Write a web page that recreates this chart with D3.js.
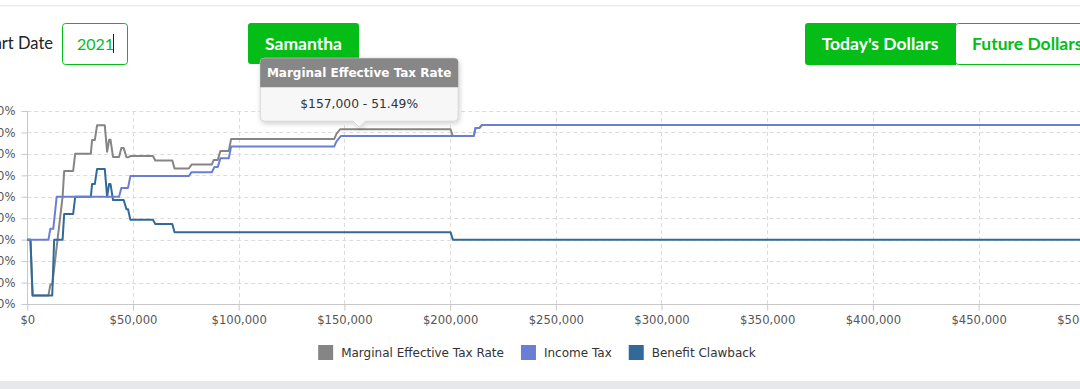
<!DOCTYPE html>
<html>
<head>
<meta charset="utf-8">
<script src="https://cdn.jsdelivr.net/npm/d3@7"></script>
<style>
  html, body { margin: 0; padding: 0; background: #fff; overflow: hidden; }
  svg { display: block; }
</style>
</head>
<body>
<svg id="chart" width="1080" height="389"></svg>
<script>
// values: [employment income, marginal rate %]
const mtrPoints = [
  [0, 0], [1500, 0], [2500, -26], [10000, -26], [10900, -20.95], [11800, -20.95],
  [16700, 20.05], [17450, 32.05], [21700, 32.05], [22650, 40.1], [30050, 40.1],
  [30650, 46.5], [31950, 46.5], [33000, 53.3], [36650, 53.3], [37750, 41],
  [38700, 46.6], [39350, 46.6], [40550, 38.6], [43400, 38.6], [44500, 42.7],
  [45600, 42.7], [46900, 38.4], [47650, 38.4], [48750, 39.0], [59450, 39.0],
  [60550, 36.9], [68600, 36.9], [69650, 33.2], [76400, 33.2], [77700, 35.0],
  [87250, 35.0], [88200, 37.2], [90100, 37.2], [91350, 41.4], [95300, 41.4],
  [96400, 46.9], [145150, 46.9], [146250, 49.3], [148000, 51.49], [200200, 51.49],
  [201300, 48.3], [211200, 48.3], [212000, 52.1], [213900, 52.1], [215100, 53.53],
  [500000, 53.53]
];
const incomeTaxPoints = [
  [0, 0], [10000, 0], [10900, 5.05], [12300, 5.05], [13900, 20.05], [43400, 20.05],
  [44500, 24.15], [47650, 24.15], [48750, 29.65], [76400, 29.65], [77700, 31.48],
  [87250, 31.48], [88550, 33.89], [90100, 33.89], [91350, 37.91], [95300, 37.91],
  [96400, 43.41], [145150, 43.41], [146250, 45.8], [148300, 48.3], [211200, 48.3],
  [212000, 52.1], [213900, 52.1], [215100, 53.53], [500000, 53.53]
];
const clawbackPoints = [
  [0, 0], [1500, 0], [2500, -26], [11800, -26], [12700, 0], [16700, 0],
  [17450, 12], [21700, 12], [22650, 20], [30050, 20], [30650, 26], [31950, 26],
  [33000, 33], [36650, 33], [37750, 20], [38700, 26], [39350, 26], [40550, 18.5],
  [45600, 18.5], [46900, 14.2], [47650, 14.2], [48750, 9.3], [59450, 9.3],
  [60550, 7.3], [68600, 7.3], [69650, 3.5], [200200, 3.5], [201300, 0], [500000, 0]
];
const seriesNames = ["Marginal Effective Tax Rate", "Income Tax", "Benefit Clawback"];
const seriesColors = ["#858585", "#6a7fd4", "#316a98"];
const xTicks = [0, 50000, 100000, 150000, 200000, 250000, 300000, 350000, 400000, 450000, 500000];
const yTicks = [-30, -20, -10, 0, 10, 20, 30, 40, 50, 60];
const tip = { income: 157000, rate: 51.49 };

const green = "#04bd17";
const svg = d3.select("#chart");

const x = d3.scaleLinear().domain([0, 500000]).range([27.3, 1084.3]);
const y = d3.scaleLinear().domain([-30, 60]).range([304, 111]);

// page frame
svg.append("rect").attr("x", 0).attr("y", 0).attr("width", 1080).attr("height", 389).attr("fill", "#fff");
svg.append("rect").attr("x", 0).attr("y", 5).attr("width", 1080).attr("height", 1.5).attr("fill", "#e9edf3");
svg.append("rect").attr("x", 0).attr("y", 381).attr("width", 1080).attr("height", 8).attr("fill", "#e7e8ec");

// controls
const ctl = svg.append("g").style("font-family", "Lato, 'Open Sans', sans-serif");
ctl.append("text").attr("x", 53).attr("y", 49).attr("text-anchor", "end")
  .style("font-size", "16.5px").attr("fill", "#222").text("Start Date");
ctl.append("rect").attr("x", 62.5).attr("y", 23.5).attr("width", 65).attr("height", 41).attr("rx", 3)
  .attr("fill", "#fff").attr("stroke", green);
ctl.append("text").attr("x", 77).attr("y", 50).style("font-size", "16px").attr("fill", green).text("2021");
ctl.append("line").attr("x1", 113.5).attr("x2", 113.5).attr("y1", 34).attr("y2", 53).attr("stroke", "#222");

ctl.append("rect").attr("x", 248).attr("y", 23).attr("width", 111).attr("height", 41).attr("rx", 3).attr("fill", green);
ctl.append("text").attr("x", 303.5).attr("y", 49.5).attr("text-anchor", "middle")
  .style("font-size", "17.5px").style("font-weight", "bold").attr("fill", "#fff").text("Samantha");

ctl.append("rect").attr("x", 955.5).attr("y", 23.5).attr("width", 140).attr("height", 41).attr("rx", 3)
  .attr("fill", "#fff").attr("stroke", green);
ctl.append("rect").attr("x", 805).attr("y", 23).attr("width", 151).attr("height", 42).attr("rx", 3).attr("fill", green);
ctl.append("rect").attr("x", 950).attr("y", 23).attr("width", 6).attr("height", 42).attr("fill", green);
ctl.append("text").attr("x", 880).attr("y", 49.5).attr("text-anchor", "middle")
  .style("font-size", "17.5px").style("font-weight", "bold").attr("fill", "#fff").text("Today's Dollars");
ctl.append("text").attr("x", 972).attr("y", 49.5)
  .style("font-size", "17.5px").style("font-weight", "bold").attr("fill", green).text("Future Dollars");

// grid
const grid = svg.append("g").attr("stroke", "#dcdcdc").attr("stroke-dasharray", "4,3");
grid.selectAll(".hg").data(yTicks.filter(d => d !== -30)).join("line")
  .attr("x1", x(0)).attr("x2", 1080).attr("y1", d => Math.round(y(d)) + 0.5).attr("y2", d => Math.round(y(d)) + 0.5);
grid.selectAll(".vg").data(xTicks.filter(d => d !== 0)).join("line")
  .attr("y1", y(60)).attr("y2", y(-30)).attr("x1", d => Math.round(x(d)) + 0.5).attr("x2", d => Math.round(x(d)) + 0.5);

// axes
const xAxis = svg.append("g").attr("transform", `translate(0,${Math.round(y(-30)) + 0.5})`)
  .call(d3.axisBottom(x).tickValues(xTicks).tickSize(6).tickPadding(5)
    .tickFormat(d => "$" + d3.format(",")(d)));
const yAxis = svg.append("g").attr("transform", `translate(${Math.round(x(0)) + 0.5},0)`)
  .call(d3.axisLeft(y).tickValues(yTicks).tickSize(6).tickPadding(6).tickFormat(d => d + "%"));
[xAxis, yAxis].forEach(a => {
  a.select(".domain").attr("stroke", "#c8c8c8");
  a.selectAll(".tick line").attr("stroke", "#c8c8c8");
  a.selectAll("text").attr("fill", "#555").style("font-family", "'DejaVu Sans', Verdana, sans-serif")
    .style("font-size", "11.6px");
});
yAxis.select(".domain").attr("d", `M0,${y(60)}V${y(-30)}`);
xAxis.select(".domain").attr("d", `M${x(0)},0H1080`);

// lines (income tax drawn on top)
const line = d3.line().x(d => x(d[0])).y(d => y(d[1]));
const drawOrder = [[mtrPoints, 0], [clawbackPoints, 2], [incomeTaxPoints, 1]];
svg.append("g").selectAll("path").data(drawOrder).join("path")
  .attr("d", d => line(d[0])).attr("fill", "none")
  .attr("stroke", d => seriesColors[d[1]]).attr("stroke-width", 2).attr("stroke-linejoin", "round");

// legend
const legend = svg.append("g").style("font-family", "'DejaVu Sans', Verdana, sans-serif").style("font-size", "12px");
const items = legend.selectAll("g").data(seriesNames).join("g");
items.append("rect").attr("width", 15).attr("height", 15).attr("y", 345).attr("fill", (d, i) => seriesColors[i]);
items.append("text").attr("x", 23).attr("y", 357).attr("fill", "#333").text(d => d);
let widths = [];
items.each(function () { widths.push(23 + d3.select(this).select("text").node().getComputedTextLength()); });
const gap = 17;
const total = d3.sum(widths) + gap * (widths.length - 1);
let cx = 537 - total / 2;
items.attr("transform", (d, i) => { const t = `translate(${cx},0)`; cx += widths[i] + gap; return t; });

// tooltip
const tx = x(tip.income), ty = y(tip.rate);
const tw = 198, th = 63, tTop = ty - 71;
const tg = svg.append("g").style("font-family", "'DejaVu Sans', Verdana, sans-serif");
const defs = svg.append("defs");
const f = defs.append("filter").attr("id", "sh").attr("x", "-10%").attr("y", "-10%").attr("width", "130%").attr("height", "140%");
f.append("feDropShadow").attr("dx", 1).attr("dy", 2).attr("stdDeviation", 2.5).attr("flood-color", "#000").attr("flood-opacity", 0.18);
tg.append("path")
  .attr("d", `M${tx - tw / 2 + 4},${tTop}H${tx + tw / 2 - 4}Q${tx + tw / 2},${tTop} ${tx + tw / 2},${tTop + 4}V${tTop + th - 4}Q${tx + tw / 2},${tTop + th} ${tx + tw / 2 - 4},${tTop + th}H${tx + 6}L${tx},${tTop + th + 6}L${tx - 6},${tTop + th}H${tx - tw / 2 + 4}Q${tx - tw / 2},${tTop + th} ${tx - tw / 2},${tTop + th - 4}V${tTop + 4}Q${tx - tw / 2},${tTop} ${tx - tw / 2 + 4},${tTop}Z`)
  .attr("fill", "#f7f7f7").attr("stroke", "#d6d6d6").attr("filter", "url(#sh)");
tg.append("path")
  .attr("d", `M${tx - tw / 2},${tTop + 29}V${tTop + 4}Q${tx - tw / 2},${tTop} ${tx - tw / 2 + 4},${tTop}H${tx + tw / 2 - 4}Q${tx + tw / 2},${tTop} ${tx + tw / 2},${tTop + 4}V${tTop + 29}Z`)
  .attr("fill", "#878787");
tg.append("text").attr("x", tx).attr("y", tTop + 19).attr("text-anchor", "middle")
  .style("font-size", "12px").style("font-weight", "bold").attr("fill", "#fff").text(seriesNames[0]);
tg.append("text").attr("x", tx).attr("y", tTop + 50).attr("text-anchor", "middle")
  .style("font-size", "12.3px").attr("fill", "#333")
  .text("$" + d3.format(",")(tip.income) + " - " + tip.rate.toFixed(2) + "%");
</script>
</body>
</html>
